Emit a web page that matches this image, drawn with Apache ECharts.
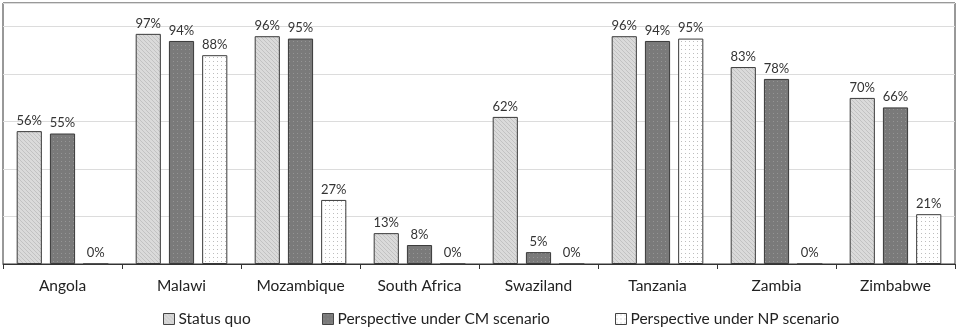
<!DOCTYPE html>
<html>
<head>
<meta charset="utf-8">
<script src="https://cdn.jsdelivr.net/npm/echarts@6/dist/echarts.min.js"></script>
<style>
  html, body { margin: 0; padding: 0; background: #fff; }
  #chart { width: 960px; height: 328px; }
</style>
</head>
<body>
<div id="chart"></div>
<script>
const countries = ['Angola', 'Malawi', 'Mozambique', 'South Africa', 'Swaziland', 'Tanzania', 'Zambia', 'Zimbabwe'];
const statusQuo = [56, 97, 96, 13, 62, 96, 83, 70];
const cmScenario = [55, 94, 95, 8, 5, 94, 78, 66];
const npScenario = [0, 88, 27, 0, 0, 95, 0, 21];
const seriesNames = ['Status quo', 'Perspective under CM scenario', 'Perspective under NP scenario'];

// small tiled canvases for the hatch / dot fills
const makePattern = (bg, fg, kind) => {
  const c = document.createElement('canvas');
  c.width = 4;
  c.height = 4;
  const ctx = c.getContext('2d');
  ctx.fillStyle = bg;
  ctx.fillRect(0, 0, 4, 4);
  ctx.fillStyle = fg;
  if (kind === 'diag') {
    for (let i = 0; i < 4; i++) ctx.fillRect(i, i, 1, 1);
  } else {
    ctx.fillRect(1, 1, 1, 1);
  }
  return { image: c, repeat: 'repeat' };
};

const fills = [
  makePattern('#dadada', '#c2c2c2', 'diag'),
  makePattern('#7a7a7a', '#959595', 'dot'),
  makePattern('#ffffff', '#bdbdbd', 'dot')
];
const border = '#3a3a3a';
const font = 'Lato, "Noto Sans", sans-serif';

const chart = echarts.init(document.getElementById('chart'));

const makeSeries = (name, data, idx) => ({
  name,
  type: 'bar',
  data,
  barGap: '32%',
  barCategoryGap: '23%',
  itemStyle: { color: fills[idx], borderColor: border, borderWidth: 1 },
  label: {
    show: true,
    position: 'top',
    distance: 4,
    formatter: '{c}%',
    color: '#333',
    fontSize: 13,
    fontFamily: font
  },
  emphasis: { disabled: true }
});

const legendLefts = [163, 322, 615];
const legends = seriesNames.map((name, i) => ({
  data: [{ name, itemStyle: { color: fills[i], borderColor: '#444', borderWidth: 1 } }],
  left: legendLefts[i],
  top: 311,
  itemWidth: 11,
  itemHeight: 11,
  itemGap: 4,
  padding: 0,
  icon: 'rect',
  selectedMode: false,
  textStyle: { color: '#222', fontSize: 15.5, fontFamily: font, padding: [0, 0, 0, -1] }
}));

chart.setOption({
  animation: false,
  legend: legends,
  grid: { left: 3, right: 5, top: 3, bottom: 64, show: true, borderColor: '#333', borderWidth: 1 },
  xAxis: {
    type: 'category',
    data: countries,
    axisLine: { lineStyle: { color: '#333', width: 1 } },
    axisTick: { show: true, length: 5, lineStyle: { color: '#333' } },
    axisLabel: { color: '#222', fontSize: 15.5, fontFamily: font, margin: 14 }
  },
  yAxis: {
    type: 'value',
    min: 0,
    max: 110,
    interval: 20,
    axisLabel: { show: false },
    axisLine: { show: false },
    axisTick: { show: false },
    splitLine: { lineStyle: { color: '#dcdcdc', width: 1 } }
  },
  series: [
    makeSeries(seriesNames[0], statusQuo, 0),
    makeSeries(seriesNames[1], cmScenario, 1),
    makeSeries(seriesNames[2], npScenario, 2)
  ]
});
</script>
</body>
</html>
